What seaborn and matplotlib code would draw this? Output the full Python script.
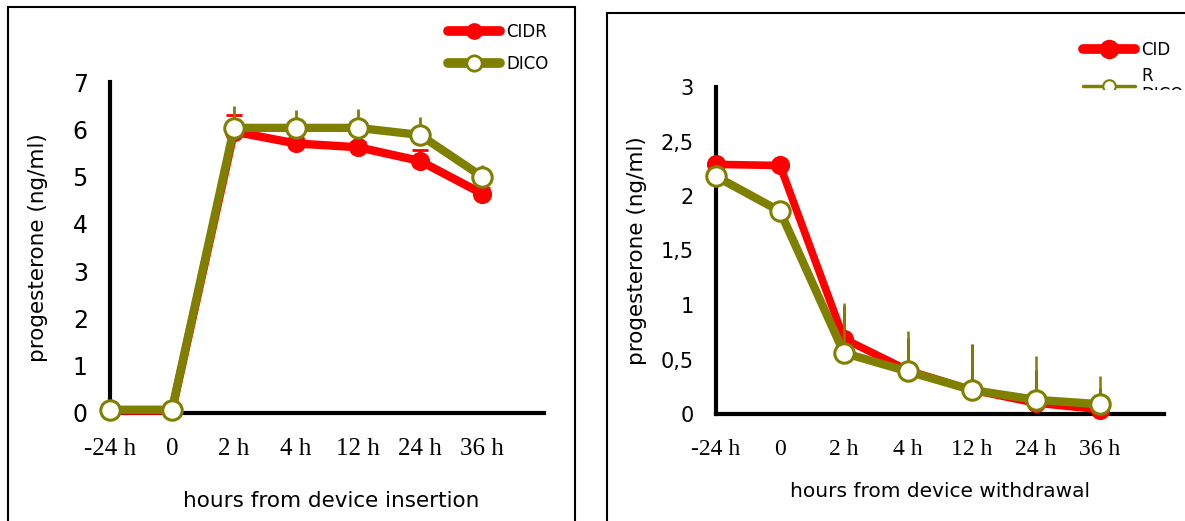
import numpy as np
import pandas as pd
import matplotlib
matplotlib.use("Agg")
import matplotlib.pyplot as plt
import seaborn as sns
from matplotlib.lines import Line2D
from matplotlib.patches import Rectangle

# ---- data ----
time_labels = ["-24 h", "0", "2 h", "4 h", "12 h", "24 h", "36 h"]

ins_cidr = [0.05, 0.05, 5.95, 5.70, 5.62, 5.33, 4.64]
ins_cidr_err = [0, 0, 0.35, 0.12, 0.12, 0.23, 0.12]
ins_dico = [0.07, 0.07, 6.03, 6.03, 6.03, 5.88, 5.00]
ins_dico_err = [0, 0, 0.46, 0.37, 0.39, 0.38, 0.24]

wd_cidr = [2.29, 2.28, 0.69, 0.40, 0.22, 0.10, 0.04]
wd_cidr_err = [0, 0, 0.30, 0.30, 0.42, 0.30, 0.20]
wd_dico = [2.18, 1.86, 0.56, 0.39, 0.22, 0.13, 0.09]
wd_dico_err = [0, 0, 0.46, 0.37, 0.41, 0.40, 0.26]

ins_yticks = [0, 1, 2, 3, 4, 5, 6, 7]
ins_yticklabels = ["0", "1", "2", "3", "4", "5", "6", "7"]
wd_yticks = [0, 0.5, 1, 1.5, 2, 2.5, 3]
wd_yticklabels = ["0", "0,5", "1", "1,5", "2", "2,5", "3"]

RED = "#FF0000"
OLIVE = "#808000"
W, H = 1185, 521

sns.set_style("white")
plt.rcParams["font.family"] = ["DejaVu Sans"]
plt.rcParams["text.color"] = "black"
plt.rcParams["axes.labelcolor"] = "black"
plt.rcParams["xtick.color"] = "black"
plt.rcParams["ytick.color"] = "black"

fig = plt.figure(figsize=(W / 100, H / 100), dpi=100)


def px_axes(x0, x1, y_top, y_bot):
    return fig.add_axes([x0 / W, 1 - y_bot / H, (x1 - x0) / W, (y_bot - y_top) / H])


def panel(ax, cidr, cerr, dico, derr, ymax, yticks, yticklabels, xlabel,
          lw_c, lw_d, ms_c, ms_d, ytick_fs, xtick_fs, derr_lw, red_cap,
          xlabel_fs, ylabel_fs):
    pos = np.arange(len(time_labels))
    zeros = np.zeros(len(pos))
    df = pd.DataFrame({"pos": pos, "CIDR": cidr, "DICO": dico})
    ax.errorbar(pos, cidr, yerr=[zeros, cerr], fmt="none", ecolor=RED,
                elinewidth=2, capsize=red_cap, capthick=2, zorder=2, clip_on=False)
    sns.lineplot(data=df, x="pos", y="CIDR", ax=ax, color=RED, lw=lw_c,
                 marker="o", ms=ms_c, mec=RED, mfc=RED, zorder=3, clip_on=False)
    ax.errorbar(pos, dico, yerr=[zeros, derr], fmt="none", ecolor=OLIVE,
                elinewidth=derr_lw, capsize=0, zorder=4, clip_on=False)
    sns.lineplot(data=df, x="pos", y="DICO", ax=ax, color=OLIVE, lw=lw_d,
                 marker="o", ms=ms_d, mfc="white", mec=OLIVE, mew=2.2,
                 zorder=5, clip_on=False)
    ax.set_xlim(0, 7)
    ax.set_ylim(0, ymax)
    ax.set_xticks(list(range(8)))
    ax.set_xticklabels(time_labels + [""], family="Liberation Serif", fontsize=xtick_fs)
    ax.set_yticks(yticks)
    ax.set_yticklabels(yticklabels, fontsize=ytick_fs)
    for s in ["top", "right"]:
        ax.spines[s].set_visible(False)
    for s in ["left", "bottom"]:
        ax.spines[s].set_linewidth(3)
        ax.spines[s].set_color("black")
    ax.tick_params(axis="both", direction="out", length=6, width=2.5, color="black")
    ax.tick_params(axis="x", pad=12)
    ax.tick_params(axis="y", pad=10)
    ax.set_xlabel(xlabel, fontsize=xlabel_fs)
    ax.set_ylabel("progesterone (ng/ml)", fontsize=ylabel_fs)
    ax.set_facecolor("none")


axL = px_axes(110, 544, 82, 413)
axR = px_axes(716, 1164, 87, 414)

panel(axL, ins_cidr, ins_cidr_err, ins_dico, ins_dico_err, 7,
      ins_yticks, ins_yticklabels, "hours from device insertion",
      lw_c=6, lw_d=6, ms_c=13, ms_d=14, ytick_fs=17, xtick_fs=18, derr_lw=2,
      red_cap=6, xlabel_fs=15.5, ylabel_fs=15.5)
panel(axR, wd_cidr, wd_cidr_err, wd_dico, wd_dico_err, 3,
      wd_yticks, wd_yticklabels, "hours from device withdrawal",
      lw_c=5.5, lw_d=6, ms_c=13, ms_d=14, ytick_fs=15, xtick_fs=17, derr_lw=1.8,
      red_cap=0, xlabel_fs=14.5, ylabel_fs=15.5)

axL.xaxis.set_label_coords(0.509, -0.235)
axL.yaxis.set_label_coords(-0.143, 0.5)
axR.xaxis.set_label_coords(0.5, -0.208)
axR.yaxis.set_label_coords(-0.154, 0.5)

# legends
hL = [Line2D([], [], color=RED, lw=7, marker="o", ms=11, mfc=RED, mec=RED),
      Line2D([], [], color=OLIVE, lw=7, marker="o", ms=11, mfc="white", mec=OLIVE, mew=2)]
legL = axL.legend(hL, ["CIDR", "DICO"], loc="upper left",
                  bbox_to_anchor=(448 / W, 1 - 23 / H), bbox_transform=fig.transFigure,
                  frameon=False, handlelength=3.1, handletextpad=0.4,
                  labelspacing=0.85, borderpad=0, borderaxespad=0, fontsize=12)

hR = [Line2D([], [], color=RED, lw=7, marker="o", ms=13, mfc=RED, mec=RED),
      Line2D([], [], color=OLIVE, lw=2.5, marker="o", ms=9, mfc="white", mec=OLIVE, mew=1.5)]
legR = axR.legend(hR, ["CID", "\nDICO"], loc="upper left",
                  bbox_to_anchor=(1083 / W, 1 - 41 / H), bbox_transform=fig.transFigure,
                  frameon=False, handlelength=3.1, handletextpad=0.4,
                  labelspacing=0.4, borderpad=0, borderaxespad=0, fontsize=12)
fig.text(1141 / W, 1 - 76 / H, "R", fontsize=12, ha="left", va="center")

# mask hiding the clipped part of the right legend
fig.add_artist(Rectangle((1075 / W, 1 - 130 / H), (W - 1075) / W, (130 - 90) / H,
                         transform=fig.transFigure, facecolor="white",
                         edgecolor="none", zorder=10))

# panel frames
fig.add_artist(Rectangle((8 / W, -0.1), (575 - 8) / W, 1 - 7 / H + 0.1,
                         transform=fig.transFigure, fill=False, lw=1.5,
                         edgecolor="black", zorder=11))
fig.add_artist(Rectangle((607 / W, -0.1), 1.0, 1 - 13 / H + 0.1,
                         transform=fig.transFigure, fill=False, lw=1.5,
                         edgecolor="black", zorder=11))

fig.savefig("out.png", dpi=100)
